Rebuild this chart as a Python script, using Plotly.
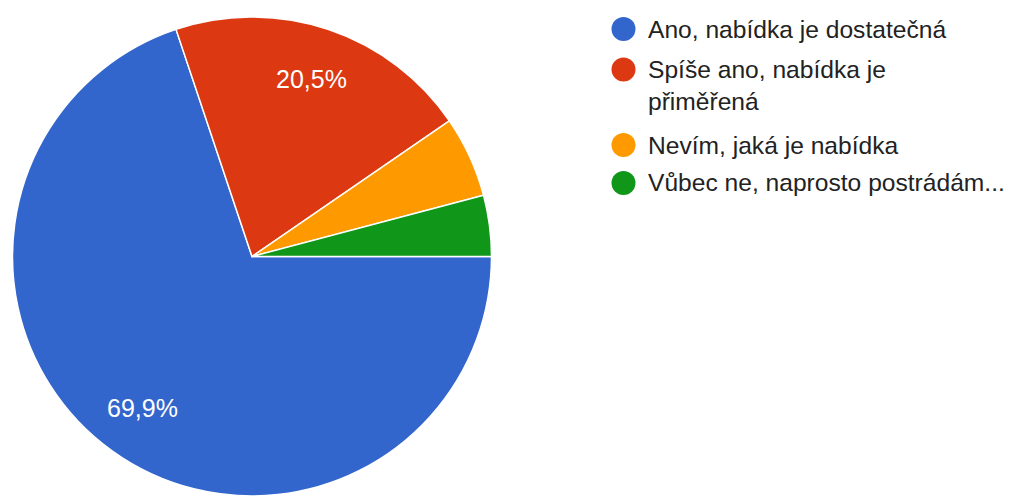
import math
import plotly.graph_objects as go

# Survey answers (number of responses)
categories = [
    "Ano, nabídka je dostatečná",
    "Spíše ano, nabídka je přiměřená",
    "Nevím, jaká je nabídka",
    "Vůbec ne, naprosto postrádám...",
]
legend_labels = [
    "Ano, nabídka je dostatečná",
    "Spíše ano, nabídka je<br>přiměřená",
    "Nevím, jaká je nabídka",
    "Vůbec ne, naprosto postrádám...",
]
counts = [51, 15, 4, 3]
colors = ["#3366cc", "#dc3912", "#ff9900", "#109618"]

W, H = 1011, 496
FONT = "Liberation Sans, Arial, sans-serif"

# pie placement in pixels
px_left, px_right, px_top = 10, 494, 17
dom_x = [px_left / W, px_right / W]
dom_y = [0.0, 1 - px_top / H]

fig = go.Figure()
fig.add_trace(go.Pie(
    labels=categories,
    values=counts,
    marker=dict(colors=colors, line=dict(color="white", width=1.5)),
    sort=False,
    direction="clockwise",
    rotation=90,
    textinfo="none",
    hoverinfo="label+percent",
    showlegend=False,
    domain=dict(x=dom_x, y=dom_y),
))

# percentage labels inside the two large slices
radius = min(px_right - px_left, H * (dom_y[1] - dom_y[0])) / 2
cx = (px_left + px_right) / 2
cy = px_top + radius
total = sum(counts)
annotations = []
cum = 0
for v in counts:
    share = v / total
    mid = math.radians(90 + 360 * (cum + v / 2) / total)
    cum += v
    if share < 0.1:
        continue
    lx = cx + 0.78 * radius * math.sin(mid)
    ly = cy - 0.78 * radius * math.cos(mid)
    txt = f"{share * 100:.1f}%".replace(".", ",")
    annotations.append(dict(
        x=lx / W, y=1 - ly / H, xref="paper", yref="paper",
        text=txt, showarrow=False, xanchor="center", yanchor="middle",
        font=dict(family=FONT, size=25, color="#ffffff"),
    ))

# legend: coloured dots with labels
shapes = []
legend_rows = [29, 69.5, 145, 183]
dot_x, dot_r, text_x = 623.5, 12, 646
for lab, col, ry in zip(legend_labels, colors, legend_rows):
    shapes.append(dict(
        type="circle", xref="paper", yref="paper",
        x0=(dot_x - dot_r) / W, x1=(dot_x + dot_r) / W,
        y0=1 - (ry + dot_r) / H, y1=1 - (ry - dot_r) / H,
        fillcolor=col, line=dict(width=0),
    ))
    annotations.append(dict(
        x=text_x / W, y=1 - (ry - 15.5) / H, xref="paper", yref="paper",
        text=lab, showarrow=False, xanchor="left", yanchor="top", align="left",
        font=dict(family=FONT, size=24.6, color="#222222"),
    ))

fig.update_layout(
    width=W, height=H,
    margin=dict(l=0, r=0, t=0, b=0),
    paper_bgcolor="white",
    plot_bgcolor="white",
    annotations=annotations,
    shapes=shapes,
    showlegend=False,
)

fig.write_html("out.html")
